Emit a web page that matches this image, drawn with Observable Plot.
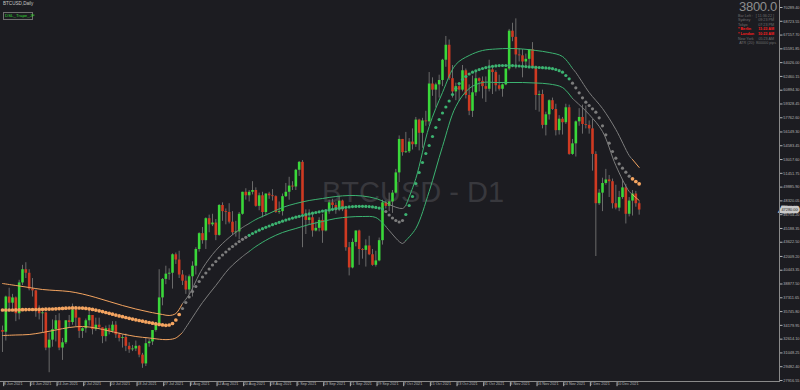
<!DOCTYPE html>
<html><head><meta charset="utf-8">
<script src="https://cdn.jsdelivr.net/npm/d3@7"></script>
<script src="https://cdn.jsdelivr.net/npm/@observablehq/plot@0.6"></script>
<style>
html,body{margin:0;padding:0;background:#1c1c21;}
#wrap{position:relative;width:800px;height:390px;overflow:hidden;font-family:"Liberation Sans",Arial,sans-serif;}
#wrap svg{position:absolute;left:0;top:0;}
.ov{position:absolute;white-space:nowrap;line-height:1;}
</style></head><body><div id="wrap"></div>
<script>
// ---------------- DATA ----------------
const symbolTitle = "BTCUSD,Daily";
const indicatorName = "DSL_Trape_JF";
const watermark = "BTCUSD - D1";
const spreadValue = "3800.0";
const infoRows = [
  ["Bar Left :", "[ 11:36:22 ]", false],
  ["Sydney", "09:23 PM", false],
  ["Tokyo", "07:23 PM", false],
  ["* Berlin", "11:23 AM", true],
  ["* London", "10:23 AM", true],
  ["New York", "05:23 AM", false]
];
const atrText = "ATR (20): 800000 pips";

const xTickIdx = [0,8,16,24,32,40,48,56,64,72,80,88,96,104,112,120,128,136,144,152,160,168,176,184];
const xTickLabels = ["8 Jun 2021","16 Jun 2021","24 Jun 2021","2 Jul 2021","10 Jul 2021","18 Jul 2021","27 Jul 2021","4 Aug 2021","12 Aug 2021","20 Aug 2021","28 Aug 2021","5 Sep 2021","13 Sep 2021","21 Sep 2021","29 Sep 2021","7 Oct 2021","15 Oct 2021","23 Oct 2021","31 Oct 2021","8 Nov 2021","16 Nov 2021","24 Nov 2021","2 Dec 2021","10 Dec 2021"];

const yTicks = [70289.40,68723.55,67157.70,65591.85,64026.00,62460.15,60894.30,59328.45,57762.60,56149.30,54583.45,53017.60,51451.75,49885.90,48320.05,46754.20,45188.35,43622.50,42009.20,40443.35,38877.50,37311.65,35745.80,34179.95,32614.10,31048.25,29482.40,27916.55];

const open = [33600,33400,37400,36700,37300,35500,39000,40500,40100,38300,38100,35800,35500,35600,31600,32500,33700,34700,31600,32200,34700,34500,35900,35000,33500,33800,34700,35300,33700,34200,33900,32900,33800,33500,34200,33100,32700,32800,31800,31400,31500,31800,30800,29800,32100,32300,33600,34300,37300,39400,40000,40100,42200,41600,39900,39200,38200,39700,40900,42800,44600,43800,46300,45600,45800,44400,47800,47100,47000,45900,44700,44800,46800,49300,48900,49300,49500,47700,48900,47000,49100,48900,48800,47000,47100,48800,49300,50000,49900,51800,52700,46800,46100,46400,44900,45200,46100,44900,47100,48100,47800,47300,48300,47300,43000,40700,43600,44900,42800,42700,43200,42200,41000,41500,43800,48100,47700,48200,49200,51500,55300,53800,53900,55000,54700,57500,56000,57400,57300,61600,60900,61500,62000,64300,66000,62200,60700,61300,60900,63100,60300,58500,60600,62200,61900,61300,61000,63200,62900,61400,61000,61500,63300,67600,66900,64900,64800,64100,64400,65500,63600,60300,60400,56900,58100,59700,58700,56300,57600,57200,58900,53600,54800,57300,57800,57000,56900,56500,53600,48000,49200,50300,50700,50500,48000,47500,48700,49800,46800,48300,49100,48000];
const high = [34100,37500,38400,37700,37400,39300,41000,41300,40500,39500,38200,36400,36100,35700,33300,34800,35300,35500,32700,34700,35300,36600,36000,35000,33900,34900,35900,35300,35000,35000,33900,34100,34200,34600,34600,33300,33100,33200,32200,31900,32400,31900,31000,32800,32600,33600,34500,40500,39500,40900,40600,42300,42400,42600,40400,39800,39900,41400,43000,44700,45300,46400,46700,46800,46200,47900,48100,47400,48000,47100,46000,47000,49300,49700,49500,50500,49800,49200,49300,49100,49300,49600,48900,48200,49100,50300,51000,50500,51900,52800,52900,47300,47300,47000,45900,46400,46800,47200,48400,48500,48100,48800,48400,47400,43600,44000,44900,45000,42900,43900,44300,42800,42600,44100,48400,48300,49200,49500,51900,55700,55300,56100,55400,56500,57800,57600,57700,58500,62900,62300,61700,62600,64400,67000,66600,63700,61700,61500,63700,63300,61500,62500,62900,62300,62400,62400,64300,63500,63100,62600,61600,63300,67800,68500,69000,65600,65500,65000,65500,66300,63600,60800,60900,58400,59800,60000,59300,58000,57800,59300,59200,55300,57400,58800,59200,59100,57400,57600,53900,49600,50900,51900,51200,50800,50100,49400,50700,50200,48700,49500,49400,48200];
const low = [31100,32400,35800,35900,34600,34800,38700,39500,38100,37400,35100,34800,33300,31300,28800,31700,32300,31300,30200,32000,33900,34200,34000,32700,32700,33300,34100,33100,33500,33800,32100,32300,33100,33300,32700,32300,31600,31200,31000,31200,31200,30500,29300,29500,31700,31900,33400,34200,36400,38800,39300,38300,41100,39500,38700,37700,37600,37400,39900,42500,43400,42800,44700,45400,43800,44300,46000,45600,45700,44400,44200,43900,46700,48400,48200,49000,47600,47200,46400,46600,48500,48300,46900,46800,46600,48700,48400,49500,49500,51100,43000,44500,45600,44200,44800,44800,43500,44800,46800,47100,46800,47100,47100,42600,39800,40600,43100,41000,41700,40800,42100,40900,40800,41400,43300,47400,47100,46900,49100,50400,53400,53700,53700,54100,54400,54000,54300,56800,56900,60200,58900,60000,61300,63500,62000,60000,59700,59600,60700,59900,58000,57800,60200,60700,59900,59500,60700,60400,60700,60800,60100,61400,63100,66400,63300,64100,62300,63400,63600,63400,58600,58400,56500,55700,57500,58600,55700,55800,55800,57000,53500,53500,53300,56800,55900,56500,55900,51700,42000,47800,47100,50100,48700,47400,47300,47100,48500,45700,46500,46600,47600,46700];
const close = [33400,37400,36700,37300,35500,39000,40500,40100,38300,38100,35800,35500,35600,31600,32500,33700,34700,31600,32200,34700,34500,35900,35000,33500,33800,34700,35300,33700,34200,33900,32900,33800,33500,34200,33100,32700,32800,31800,31400,31500,31800,30800,29800,32100,32300,33600,34300,37300,39400,40000,40100,42200,41600,39900,39200,38200,39700,40900,42800,44600,43800,46300,45600,45800,44400,47800,47100,47000,45900,44700,44800,46800,49300,48900,49300,49500,47700,48900,47000,49100,48900,48800,47000,47100,48800,49300,50000,49900,51800,52700,46800,46100,46400,44900,45200,46100,44900,47100,48100,47800,47300,48300,47300,43000,40700,43600,44900,42800,42700,43200,42200,41000,41500,43800,48100,47700,48200,49200,51500,55300,53800,53900,55000,54700,57500,56000,57400,57300,61600,60900,61500,62000,64300,66000,62200,60700,61300,60900,63100,60300,58500,60600,62200,61900,61300,61000,63200,62900,61400,61000,61500,63300,67600,66900,64900,64800,64100,64400,65500,63600,60300,60400,56900,58100,59700,58700,56300,57600,57200,58900,53600,54800,57300,57800,57000,56900,56500,53600,48000,49200,50300,50700,50500,48000,47500,48700,49800,46800,48300,49100,48000,47280];

// DSL line (one dot per bar)
const center = [35925,35925,35925,35925,35935,35946,35957,35969,35982,35982,35982,35994,36005,36016,36028,36039,36062,36085,36107,36130,36153,36164,36164,36153,36141,36107,36062,35994,35914,35835,35744,35641,35550,35448,35346,35255,35164,35073,34982,34891,34812,34733,34653,34574,34505,34426,34358,34290,34233,34187,34221,34392,34789,35414,36096,36777,37402,38027,38595,39163,39674,40129,40583,41038,41435,41833,42174,42515,42856,43140,43424,43708,43958,44185,44412,44617,44810,44992,45162,45321,45469,45616,45753,45889,46014,46139,46253,46366,46468,46571,46661,46752,46843,46923,47003,47082,47162,47230,47298,47366,47434,47491,47548,47593,47639,47673,47696,47707,47707,47696,47673,47639,47582,47503,47389,47116,46718,46378,46093,45923,46093,46775,47797,48819,50296,51545,52681,53704,54613,55635,56658,57566,58305,58986,59668,60406,61088,61656,62110,62451,62735,62939,63099,63235,63360,63462,63542,63610,63655,63690,63701,63701,63701,63690,63667,63644,63610,63576,63542,63519,63497,63474,63451,63428,63394,63337,63246,63110,62939,62565,62190,61690,61168,60600,60032,59532,59157,58782,58396,57760,56851,55829,54874,53932,53170,52534,52034,51580,51125,50830,50523,50262];
// bands (sampled bars)
const bandIdx   = [0,4,8,12,16,20,24,28,32,36,40,44,48,50,52,54,56,60,64,68,72,74,76,80,84,88,92,96,100,104,108,112,115,116,120,121,124,128,132,136,140,144,148,152,156,160,164,168,171,172,176,180,184,188,189,191];
const bandUpper = [38936,38709,38481,38254,38141,38027,37743,37345,36891,36437,36039,35698,35414,35301,35528,36664,37686,40640,42685,44161,45298,45751,46206,46888,47569,48024,48364,48592,48819,48932,48876,48592,48137,47910,47456,47797,50864,56771,60633,63814,64837,65405,65575,65632,65575,65405,65177,64723,63360,62905,60633,58816,56430,53477,53022,52114];
const bandLower = [33029,33085,33142,33369,33653,33937,34051,33880,33540,33199,32915,32745,32574,32574,32745,33369,34505,36777,38708,40640,42003,42571,43139,44048,44730,45184,45638,45979,46320,46490,46547,46433,45411,44957,43480,43821,45184,49387,54499,59043,61088,61769,61769,61769,61769,61712,61599,61201,59952,59611,58134,56203,52341,49387,49046,48365];
// trend state runs: [first bar, state]
const stateRuns = [[0,"bear"],[54,"flat"],[74,"bull"],[115,"flat"],[121,"bull"],[171,"flat"],[189,"bear"]];

// ---------------- BUILD ----------------
const N = open.length;
[high,low,close,center].forEach((a,k)=>{ if(a.length!==N) throw new Error("length mismatch "+k+": "+a.length+" vs "+N); });
if (bandUpper.length!==bandIdx.length || bandLower.length!==bandIdx.length) throw new Error("band mismatch");

const bars = open.map((o,i)=>({i, open:o, high:high[i], low:low[i], close:close[i], dir: close[i]>=o ? "up":"down"}));
const stateAt = i => { let s = stateRuns[0][1]; for (const [k,v] of stateRuns) if (i>=k) s=v; return s; };
const dots = center.map((v,i)=>({i, v, s: stateAt(i)}));
const bandPts = bandIdx.map((k,j)=>({i:k, u:bandUpper[j], l:bandLower[j], s:stateAt(k)}));
const segs = []; let seg = -1, prev = null;
bandPts.forEach(p=>{
  if (!prev || p.s!==prev.s){ if (prev) segs.push({...p, seg, s: prev.s}); seg++; }
  segs.push({...p, seg}); prev = p;
});

const palette = {bear:"#f4a460", flat:"#7d7d7d", bull:"#3cb371", up:"#3ad83a", down:"#cf3a22"};
const last = bars[N-1];
const FONT = "Liberation Sans, Arial, sans-serif";

const chart = Plot.plot({
  width: 800, height: 390,
  marginLeft: 0, marginTop: 0, marginRight: 21, marginBottom: 9,
  style: {background: "transparent", color: "#b4b4b4", fontFamily: FONT, overflow: "visible"},
  x: {type: "linear", domain: [0, N-1], range: [2, 638.67], label: null},
  y: {type: "linear", domain: [27916.55, 70289.40], range: [380, 7], label: null},
  color: {type: "ordinal", domain: Object.keys(palette), range: Object.values(palette)},
  marks: [
    Plot.text([watermark], {frameAnchor: "middle", dx: 23, dy: 2, fontSize: 29, fill: "#38383d", fontFamily: FONT}),
    Plot.ruleX(bars, {x: "i", y1: "low", y2: "high", stroke: "#6a6a6a", strokeWidth: 1}),
    Plot.ruleX(bars, {x: "i", y1: "open", y2: "close", stroke: "dir", strokeWidth: 2.6}),
    Plot.line(segs, {x: "i", y: "u", z: "seg", stroke: "s", curve: "catmull-rom", strokeWidth: 1}),
    Plot.line(segs, {x: "i", y: "l", z: "seg", stroke: "s", curve: "catmull-rom", strokeWidth: 1}),
    Plot.dot(dots, {filter: d => d.s !== "bear", x: "i", y: "v", fill: "s", r: 1.6}),
    Plot.dot(dots, {filter: d => d.s === "bear", x: "i", y: "v", fill: "s", r: 1.85}),
    Plot.axisY(yTicks, {anchor: "right", tickSize: 2.5, tickPadding: 1.3, fontSize: 3.9,
      tickFormat: d => d.toFixed(2), color: "#b4b4b4"}),
    Plot.axisX(xTickIdx, {anchor: "bottom", tickSize: 4, tickPadding: -4, dy: 1.2, dx: 1.2,
      textAnchor: "start", fontSize: 3.8, tickFormat: d => xTickLabels[xTickIdx.indexOf(d)], color: "#b4b4b4"}),
    Plot.text([last], {y: "close", text: d => d.close.toFixed(2), frameAnchor: "right", dx: 10,
      textAnchor: "middle", fontSize: 3.9, fill: "#1c1c21", stroke: "#c9c9c9", strokeWidth: 4.5,
      paintOrder: "stroke", strokeLinejoin: "miter"})
  ]
});

const wrap = document.getElementById("wrap");
wrap.appendChild(chart);

function ov(html, css){ const d=document.createElement("div"); d.className="ov"; d.innerHTML=html; Object.assign(d.style, css); wrap.appendChild(d); return d; }
// chart border lines (right and bottom)
ov("", {left:"779px", top:"0px", width:"1px", height:"382px", background:"#8a8a8a"});
ov("", {left:"0px", top:"381px", width:"780px", height:"1px", background:"#8a8a8a"});
// top-left
ov(symbolTitle, {left:"3px", top:"2px", fontSize:"4.6px", color:"#c4c4c4"});
ov(indicatorName, {left:"3px", top:"12px", width:"26px", height:"6px", border:"1px solid #707070", fontSize:"4.4px",
  color:"#33d633", textAlign:"center", lineHeight:"6px", padding:"0 1px"});
// info panel
ov(spreadValue, {right:"23px", top:"2px", fontSize:"13px", lineHeight:"10px", height:"10px", color:"#8e8e8e", letterSpacing:"-0.3px"});
infoRows.forEach((r,k)=>{
  const col = r[2] ? "#ff1e1e" : "#6f6f6f";
  const top = (14.6 + k*4.6) + "px";
  ov(r[0], {left:"738px", top, fontSize:"3.7px", color:col, fontWeight: r[2]?"bold":"normal"});
  ov(r[1], {right:"26px", top, fontSize:"3.7px", color:col, fontWeight: r[2]?"bold":"normal"});
});
ov(atrText, {right:"24px", top:"42.2px", fontSize:"3.7px", color:"#6f6f6f"});
</script></body></html>
